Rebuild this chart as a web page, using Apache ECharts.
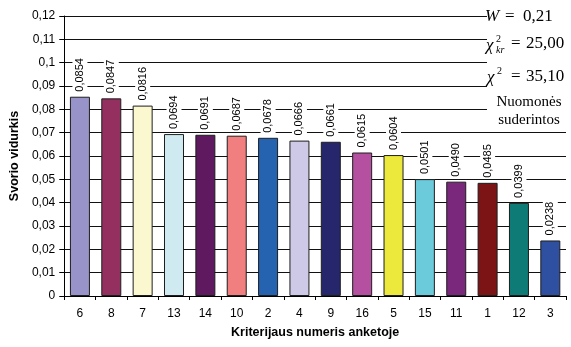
<!DOCTYPE html>
<html>
<head>
<meta charset="utf-8">
<script src="https://cdn.jsdelivr.net/npm/echarts@6/dist/echarts.min.js"></script>
<style>
  html, body { margin: 0; padding: 0; background: #fff; }
  #chart { width: 571px; height: 347px; }
</style>
</head>
<body>
<div id="chart"></div>
<script>
// Criterion numbers in the questionnaire, ordered by mean weight
const categories = ['6', '8', '7', '13', '14', '10', '2', '4', '9', '16', '5', '15', '11', '1', '12', '3'];
// Mean weight of each criterion
const weights = [0.0854, 0.0847, 0.0816, 0.0694, 0.0691, 0.0687, 0.0678, 0.0666, 0.0661, 0.0615, 0.0604, 0.0501, 0.0490, 0.0485, 0.0399, 0.0238];
// Bar fill colours, one per criterion
const barColors = ['#9893c8', '#93305f', '#fbf8cf', '#cfeaf0', '#5f1a5f', '#f27f7f', '#2563b0', '#cdc9e6',
                   '#26266d', '#b4509f', '#ede93c', '#6ccbda', '#7a287c', '#7c1416', '#0e7b76', '#2f50a1'];
// Concordance statistics shown beside the plot
const statW = '0,21';
const statChiCrit = '25,00';
const statChi = '35,10';
const verdictLines = ['Nuomonės', 'suderintos'];

const SANS = 'Liberation Sans, Arial, sans-serif';
const SERIF = 'Liberation Serif, Times New Roman, serif';
const comma = (s) => String(s).replace('.', ',');

const chart = echarts.init(document.getElementById('chart'), null, { renderer: 'canvas' });

const option = {
  animation: false,
  backgroundColor: '#fff',
  grid: { left: 62, right: 5, top: 16, bottom: 51 },
  xAxis: {
    type: 'category',
    data: categories,
    axisLine: { lineStyle: { color: '#000', width: 1 } },
    axisTick: { show: true, length: 4, lineStyle: { color: '#000' } },
    axisLabel: { color: '#000', fontSize: 12, fontFamily: SANS, margin: 12 },
    name: 'Kriterijaus numeris anketoje',
    nameLocation: 'middle',
    nameGap: 30,
    nameTextStyle: { color: '#000', fontSize: 12.5, fontWeight: 'bold', fontFamily: SANS }
  },
  yAxis: {
    type: 'value',
    min: 0,
    max: 0.12,
    interval: 0.01,
    axisLine: { show: true, lineStyle: { color: '#000', width: 1 } },
    axisTick: { show: true, length: 5, lineStyle: { color: '#000' } },
    axisLabel: {
      color: '#000', fontSize: 12, fontFamily: SANS, margin: 9,
      formatter: (v) => comma(+v.toFixed(2))
    },
    splitLine: { show: true, lineStyle: { color: '#111', width: 1 } },
    name: 'Svorio vidurkis',
    nameLocation: 'middle',
    nameGap: 38,
    nameRotate: 90,
    nameTextStyle: { color: '#000', fontSize: 12.5, fontWeight: 'bold', fontFamily: SANS }
  },
  series: [{
    type: 'bar',
    barWidth: 20,
    data: weights.map((v, i) => ({ value: v, itemStyle: { color: barColors[i] } })),
    itemStyle: { borderColor: '#1e1e1e', borderWidth: 1 },
    label: {
      show: true,
      position: 'top',
      rotate: 90,
      align: 'left',
      verticalAlign: 'middle',
      distance: 4,
      color: '#000',
      fontSize: 11,
      fontFamily: SANS,
      backgroundColor: '#fff',
      padding: [2, 2, 2, 1],
      formatter: (p) => comma(p.value.toFixed(4))
    }
  }]
};

chart.setOption(option);

// Side panel: the upper grid lines stop short of the statistics text
const yCut = chart.convertToPixel({ yAxisIndex: 0 }, 0.075);
const xText = 487;
const chiFont = 'italic 17px ' + SERIF;
const numFont = '17px ' + SERIF;

// one piece of text, vertically centred on y
function piece(x, y, text, font, align) {
  return {
    type: 'text', z: 10, x: x, y: y,
    style: { text: text, font: font, fill: '#000', align: align || 'left', verticalAlign: 'middle' }
  };
}

chart.setOption({
  graphic: [
    { type: 'rect', z: 1, shape: { x: xText, y: 0, width: 571 - xText, height: yCut }, style: { fill: '#fff' } },
    // W = 0,21
    piece(485, 17, 'W', 'italic 17px ' + SERIF),
    piece(505, 17, '=', numFont),
    piece(523, 17, statW, numFont),
    // critical chi-square
    piece(486, 46, 'χ', chiFont),
    piece(496, 39, '2', '10px ' + SERIF),
    piece(496, 50, 'kr', 'italic 10px ' + SERIF),
    piece(511, 44, '=', numFont),
    piece(526, 44, statChiCrit, numFont),
    // observed chi-square
    piece(487, 78, 'χ', chiFont),
    piece(497, 71, '2', '10px ' + SERIF),
    piece(511, 77, '=', numFont),
    piece(526, 77, statChi, numFont),
    // verdict
    piece(529, 102, verdictLines[0], '15px ' + SERIF, 'center'),
    piece(529, 120, verdictLines[1], '15px ' + SERIF, 'center')
  ]
});
</script>
</body>
</html>
